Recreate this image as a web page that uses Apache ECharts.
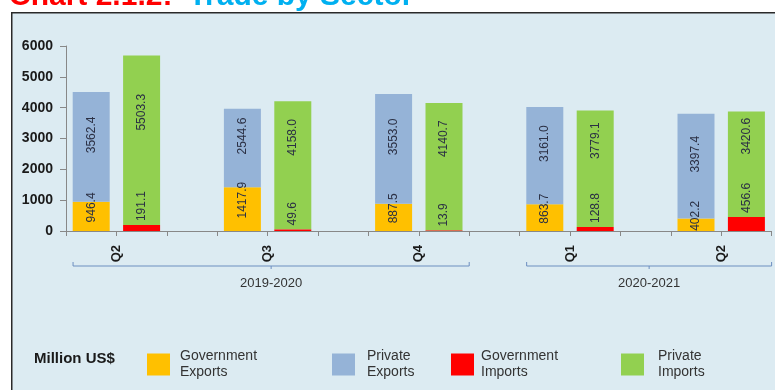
<!DOCTYPE html>
<html>
<head>
<meta charset="utf-8">
<script src="https://cdn.jsdelivr.net/npm/echarts@6/dist/echarts.min.js"></script>
<style>
  html, body { margin: 0; padding: 0; background: #ffffff; }
  #chart { width: 775px; height: 390px; }
</style>
</head>
<body>
<div id="chart"></div>
<script>
// Trade by sector, million US$, per quarter
const quarters = ['Q2', 'Q3', 'Q4', 'Q1', 'Q2'];
const years = ['2019-2020', '2020-2021'];
const quartersPerYear = [3, 2];
const govExports = [946.4, 1417.9, 887.5, 863.7, 402.2];
const privExports = [3562.4, 2544.6, 3553.0, 3161.0, 3397.4];
const govImports = [191.1, 49.6, 13.9, 128.8, 456.6];
const privImports = [5503.3, 4158.0, 4140.7, 3779.1, 3420.6];
const yMax = 6000;
const yStep = 1000;

// Each quarter takes three slots: exports column, imports column, spacer
// (the spacer after the last quarter is left out).
const SLOTS_PER_Q = 3;
const slotCount = quarters.length * SLOTS_PER_Q - 1;
const slotNames = Array.from({ length: slotCount }, (_, i) => 's' + i);

function toSlots(values, slot) {
  const out = new Array(slotCount).fill('-');
  values.forEach((v, i) => { out[i * SLOTS_PER_Q + slot] = v; });
  return out;
}

// Year groups as slot ranges
const yearRanges = [];
let startQ = 0;
quartersPerYear.forEach((n, i) => {
  const s = startQ * SLOTS_PER_Q;
  yearRanges.push([s, s + n * SLOTS_PER_Q - 1, i]);
  startQ += n;
});

const FONT = 'Liberation Sans, Arial, sans-serif';
const labelBase = {
  show: true,
  rotate: 90,
  fontFamily: FONT,
  fontSize: 12,
  color: '#2b3044',
  formatter: p => Number(p.value).toFixed(1)
};

const legendBase = {
  orient: 'horizontal',
  top: 340,
  icon: 'rect',
  itemWidth: 23,
  itemHeight: 22,
  selectedMode: false,
  formatter: n => n.replace(' ', '\n'),
  textStyle: { fontFamily: FONT, fontSize: 14, lineHeight: 16, color: '#333333' }
};
function legendAt(left, name, gap) {
  return Object.assign({}, legendBase, {
    left: left, data: [name],
    textStyle: Object.assign({}, legendBase.textStyle, { padding: [7, 0, 0, gap] })
  });
}

const chart = echarts.init(document.getElementById('chart'), null, { renderer: 'canvas' });

chart.setOption({
  animation: false,
  backgroundColor: '#ffffff',
  graphic: [{
    type: 'rect',
    left: 11, top: 12, z: -1, silent: true,
    shape: { width: 820, height: 420 },
    style: { fill: '#dcebf2', stroke: '#2a2a2a', lineWidth: 1.5 }
  }],
  title: [{
    text: '{r|Chart 2.1.2:}{b|Trade by Sector}',
    left: 9, top: -18, padding: 0,
    textStyle: {
      rich: {
        r: { fontFamily: FONT, fontSize: 30, fontWeight: 'bold', color: '#ff0000' },
        b: { fontFamily: FONT, fontSize: 30, fontWeight: 'bold', color: '#00b0f0', padding: [0, 0, 0, 16] }
      }
    }
  }, {
    text: 'Million US$',
    left: 34, top: 351, padding: 0,
    textStyle: { fontFamily: FONT, fontSize: 15, fontWeight: 'bold', color: '#1a1a1a' }
  }],
  legend: [
    legendAt(142, 'Government Exports', 5),
    legendAt(327, 'Private Exports', 7),
    legendAt(446, 'Government Imports', 2),
    legendAt(616, 'Private Imports', 9)
  ],
  grid: { left: 66, top: 46, width: 705.6, height: 185, containLabel: false },
  xAxis: [{
    type: 'category',
    data: slotNames,
    boundaryGap: true,
    axisLine: { lineStyle: { color: '#888888', width: 1 } },
    axisTick: { show: true, length: 5, lineStyle: { color: '#888888' } },
    axisLabel: { show: false }
  }, {
    // quarter names sit on the boundary between the two columns of a quarter
    type: 'value',
    min: 0, max: slotCount, interval: 1,
    position: 'bottom',
    splitLine: { show: false },
    axisLine: { show: false },
    axisTick: { show: false },
    axisLabel: {
      rotate: 90,
      margin: 14,
      fontFamily: FONT,
      fontSize: 13,
      fontWeight: 'bold',
      color: '#1a1a1a',
      showMinLabel: true, showMaxLabel: true,
      formatter: v => ((v - 1) % SLOTS_PER_Q === 0 && v >= 1 && (v - 1) / SLOTS_PER_Q < quarters.length)
        ? quarters[(v - 1) / SLOTS_PER_Q] : ''
    }
  }],
  yAxis: {
    type: 'value',
    min: 0, max: yMax, interval: yStep,
    splitLine: { show: false },
    axisLine: { show: true, lineStyle: { color: '#888888' } },
    axisTick: { show: true, length: 6, lineStyle: { color: '#888888' } },
    axisLabel: {
      margin: 13, fontFamily: FONT, fontSize: 14, fontWeight: 'bold', color: '#1a1a1a',
      formatter: v => String(v)
    }
  },
  series: [{
    name: 'Government Exports', type: 'bar', stack: 'trade', barWidth: 37,
    itemStyle: { color: '#ffc000' },
    label: Object.assign({}, labelBase, { position: 'inside', offset: [9, 0] }),
    data: toSlots(govExports, 0)
  }, {
    name: 'Private Exports', type: 'bar', stack: 'trade', barWidth: 37,
    itemStyle: { color: '#95b3d7' },
    label: Object.assign({}, labelBase, { position: 'inside', offset: [12, 0] }),
    data: toSlots(privExports, 0)
  }, {
    name: 'Government Imports', type: 'bar', stack: 'trade', barWidth: 37, z: 3,
    itemStyle: { color: '#ff0000' },
    label: Object.assign({}, labelBase, { position: 'top', distance: 4, align: 'left', verticalAlign: 'middle' }),
    data: toSlots(govImports, 1)
  }, {
    name: 'Private Imports', type: 'bar', stack: 'trade', barWidth: 37,
    itemStyle: { color: '#92d050' },
    label: Object.assign({}, labelBase, { position: 'inside', offset: [28, 0] }),
    data: toSlots(privImports, 1)
  }, {
    // year brackets under the quarter labels
    type: 'custom',
    xAxisIndex: 1,
    yAxisIndex: 0,
    clip: false,
    silent: true,
    encode: { x: [0, 1] },
    data: yearRanges,
    renderItem: (params, api) => {
      const s = api.value(0) + 0.14;
      const e = api.value(1);
      const idx = api.value(2);
      const base = api.coord([0, 0])[1];
      const x0 = api.coord([s, 0])[0];
      const x1 = api.coord([e, 0])[0];
      const xm = (x0 + x1) / 2;
      const yl = base + 35;
      const stroke = '#6d8fc0';
      return {
        type: 'group',
        children: [{
          type: 'polyline',
          shape: { points: [[x0, yl - 4], [x0, yl], [x1, yl], [x1, yl - 4]] },
          style: { stroke: stroke, lineWidth: 1, fill: null }
        }, {
          type: 'line',
          shape: { x1: xm, y1: yl, x2: xm, y2: yl + 3 },
          style: { stroke: stroke, lineWidth: 1 }
        }, {
          type: 'text',
          style: {
            text: years[idx], x: xm, y: yl + 17,
            align: 'center', verticalAlign: 'middle',
            font: '13px ' + FONT, fill: '#333333'
          }
        }]
      };
    }
  }]
});
</script>
</body>
</html>
